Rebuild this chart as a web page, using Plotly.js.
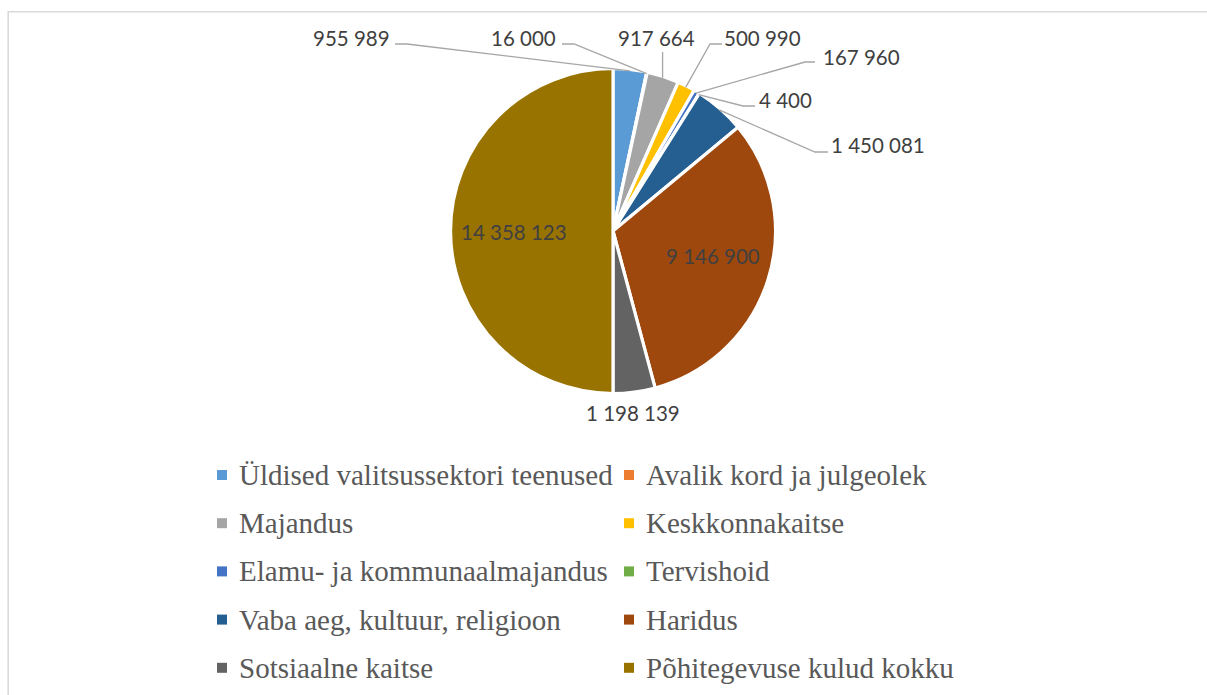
<!DOCTYPE html>
<html>
<head>
<meta charset="utf-8">
<script src="https://cdn.plot.ly/plotly-3.0.1.min.js"></script>
<style>
html,body{margin:0;padding:0;background:#fff;overflow:hidden;}
#chart{width:1207px;height:695px;}
</style>
</head>
<body>
<div id="chart"></div>
<script>
// ---- data ----
const categories = [
  "Üldised valitsussektori teenused",
  "Avalik kord ja julgeolek",
  "Majandus",
  "Keskkonnakaitse",
  "Elamu- ja kommunaalmajandus",
  "Tervishoid",
  "Vaba aeg, kultuur, religioon",
  "Haridus",
  "Sotsiaalne kaitse",
  "Põhitegevuse kulud kokku"
];
const values = [955989, 16000, 917664, 500990, 167960, 4400, 1450081, 9146900, 1198139, 14358123];
const colors = ["#5B9BD5", "#ED7D31", "#A5A5A5", "#FFC000", "#4472C4", "#70AD47", "#255E91", "#9E480E", "#636363", "#997300"];

// ---- layout constants (pixels) ----
const W = 1207, H = 695;
const CX = 613, CY = 231, R = 162.5, EDGE = 161;
const labelPos = [[351,38],[523,38],[656,38],[763,38],[861,57],[785,100],[878,145],[713,256],[633,413],[514,232]];
const leaderStart = [[395,44],[562,44],[null,52],[722,44],[815,62],[755,106],[828,152],null,null,null];
const leaderKnee  = [[407,44],[574,44],null,[710,44],[805,62],[743,106],[815,152],null,null,null];

const px = x => x / W;
const py = y => 1 - y / H;
const fmt = v => String(v).replace(/\B(?=(\d{3})+(?!\d))/g, ' ');

const total = values.reduce((a,b)=>a+b,0);
let cum = 0;
const midAngles = values.map(v => { const m = (cum + v/2) / total * 2*Math.PI; cum += v; return m; });

const annotations = [];
const shapes = [];

// data labels
values.forEach((v,i) => {
  annotations.push({
    xref:'paper', yref:'paper', x:px(labelPos[i][0]), y:py(labelPos[i][1]),
    xanchor:'center', yanchor:'middle', showarrow:false,
    text: fmt(v), font:{family:'Lato, sans-serif', size:20.5, color:'#404040'}
  });
  if (leaderStart[i]) {
    const ex = CX + EDGE*Math.sin(midAngles[i]);
    const ey = CY - EDGE*Math.cos(midAngles[i]);
    let pts;
    if (leaderKnee[i]) {
      pts = [leaderStart[i], leaderKnee[i], [ex,ey]];
    } else {
      pts = [[ex, leaderStart[i][1]], [ex,ey]];
    }
    const path = pts.map((p,k)=>(k?'L':'M')+px(p[0])+','+py(p[1])).join(' ');
    shapes.push({type:'path', xref:'paper', yref:'paper', path:path,
      line:{color:'#A6A6A6', width:1.3}});
  }
});

// legend (two columns, row-major)
const colMarkerX = [217, 624], colTextX = [237, 644];
const rowY0 = 475, rowGap = 48.2, sq = 10;
categories.forEach((c,i) => {
  const col = i % 2, row = Math.floor(i/2);
  const y = rowY0 + row*rowGap;
  shapes.push({type:'rect', xref:'paper', yref:'paper',
    x0:px(colMarkerX[col]), x1:px(colMarkerX[col]+sq), y0:py(y-sq/2), y1:py(y+sq/2),
    fillcolor:colors[i], line:{width:0}});
  annotations.push({xref:'paper', yref:'paper', x:px(colTextX[col]), y:py(y),
    xanchor:'left', yanchor:'middle', showarrow:false, text:c,
    font:{family:'"Liberation Serif", "Times New Roman", serif', size:29, color:'#595959'}});
});

// chart border (extends past right/bottom edge)
shapes.push({type:'path', xref:'paper', yref:'paper',
  path:'M'+px(1220)+','+py(11.7)+' L'+px(8.2)+','+py(11.7)+' L'+px(8.2)+','+py(710),
  line:{color:'#D9D9D9', width:1.6}});

const trace = {
  type:'pie', labels:categories, values:values, sort:false, direction:'clockwise', rotation:0,
  marker:{colors:colors, line:{color:'#FFFFFF', width:3.2}},
  textinfo:'none', hoverinfo:'label+value', showlegend:false,
  domain:{x:[px(CX-R), px(CX+R)], y:[py(CY+R), py(CY-R)]}
};

Plotly.newPlot('chart', [trace], {
  width:W, height:H, margin:{l:0,r:0,t:0,b:0},
  paper_bgcolor:'#FFFFFF', plot_bgcolor:'#FFFFFF',
  showlegend:false, annotations:annotations, shapes:shapes
}, {staticPlot:true});
</script>
</body>
</html>
